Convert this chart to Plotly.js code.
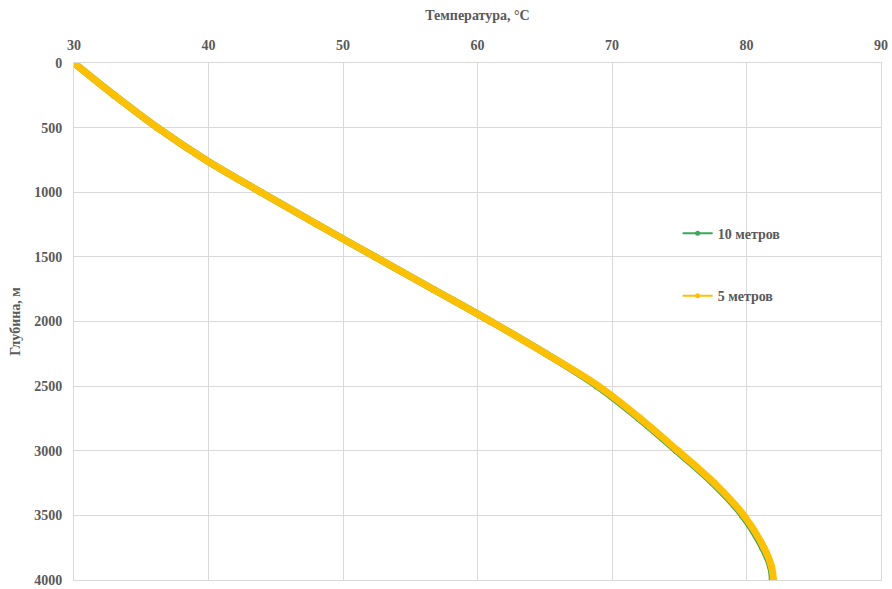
<!DOCTYPE html>
<html>
<head>
<meta charset="utf-8">
<script src="https://cdn.plot.ly/plotly-3.0.1.min.js"></script>
<style>html,body{margin:0;padding:0;background:#fff;}#chart{width:892px;height:589px;}</style>
</head>
<body>
<div id="chart"></div>
<script>
// Depth, m
const depth = [0, 250, 500, 750, 1000, 1250, 1500, 1750, 2000, 2250, 2500, 2750, 3000, 3250, 3500, 3750, 3900, 4000];
// Temperature, °C — "10 метров"
const temp10 = [30.0, 33.0, 36.2, 39.8, 43.9, 48.1, 52.4, 56.7, 61.0, 65.1, 68.9, 72.0, 74.8, 77.5, 79.7, 81.2, 81.8, 81.92];
// Temperature, °C — "5 метров"
const temp5 = [30.0, 33.0, 36.2, 39.8, 43.9, 48.1, 52.4, 56.7, 61.0, 65.1, 69.0, 72.1, 74.9, 77.6, 79.8, 81.3, 81.87, 82.0];
const seriesNames = ["10 метров", "5 метров"];
const xTicks = [30, 40, 50, 60, 70, 80, 90];
const yTicks = [0, 500, 1000, 1500, 2000, 2500, 3000, 3500, 4000];

const green = "#3aa75a";
const gold = "#ffc000";
const txt = "#595959";
const grid = "#d9d9d9";
const fontFam = "Liberation Serif, Times New Roman, serif";

const traces = [
  {x: temp10, y: depth, mode: "lines+markers", line: {color: green, width: 7, shape: "spline"},
   marker: {color: green, size: 7}, showlegend: false, hoverinfo: "skip"},
  {x: temp5, y: depth, mode: "lines+markers", line: {color: gold, width: 7, shape: "spline"},
   marker: {color: gold, size: 7}, showlegend: false, hoverinfo: "skip"},
  {x: [null], y: [null], mode: "lines+markers", name: seriesNames[0], legend: "legend",
   line: {color: green, width: 2}, marker: {color: green, size: 5}},
  {x: [null], y: [null], mode: "lines+markers", name: seriesNames[1], legend: "legend2",
   line: {color: gold, width: 2}, marker: {color: gold, size: 5}}
];

const legendBase = {
  bgcolor: "rgba(0,0,0,0)", borderwidth: 0,
  font: {family: fontFam, size: 14, color: txt, weight: "bold"},
  xanchor: "left", yanchor: "middle", itemwidth: 30
};

const layout = {
  width: 892, height: 589,
  margin: {l: 74, r: 11, t: 63, b: 9},
  paper_bgcolor: "#fff", plot_bgcolor: "#fff",
  font: {family: fontFam, color: txt},
  xaxis: {
    side: "top", range: [30, 90], tickvals: xTicks, ticktext: xTicks.map(String),
    showgrid: true, gridcolor: grid, gridwidth: 1, zeroline: false,
    showline: true, mirror: true, linecolor: grid, linewidth: 1, ticks: "",
    ticklabelstandoff: 6,
    tickfont: {family: fontFam, size: 14, color: txt, weight: "bold"},
    title: {text: "Температура, °С", standoff: 14, font: {family: fontFam, size: 14, color: txt, weight: "bold"}}
  },
  yaxis: {
    range: [4000, 0], tickvals: yTicks, ticktext: yTicks.map(String),
    showgrid: true, gridcolor: grid, gridwidth: 1, zeroline: false,
    showline: true, mirror: true, linecolor: grid, linewidth: 1, ticks: "",
    ticklabelstandoff: 8, ticklabeloverflow: "allow",
    tickfont: {family: fontFam, size: 14, color: txt, weight: "bold"},
    title: {text: "Глубина, м", standoff: 10, font: {family: fontFam, size: 14, color: txt, weight: "bold"}}
  },
  legend: Object.assign({}, legendBase, {x: 0.748, y: 0.67}),
  legend2: Object.assign({}, legendBase, {x: 0.748, y: 0.549})
};

Plotly.newPlot("chart", traces, layout, {displayModeBar: false, staticPlot: true});
</script>
</body>
</html>
